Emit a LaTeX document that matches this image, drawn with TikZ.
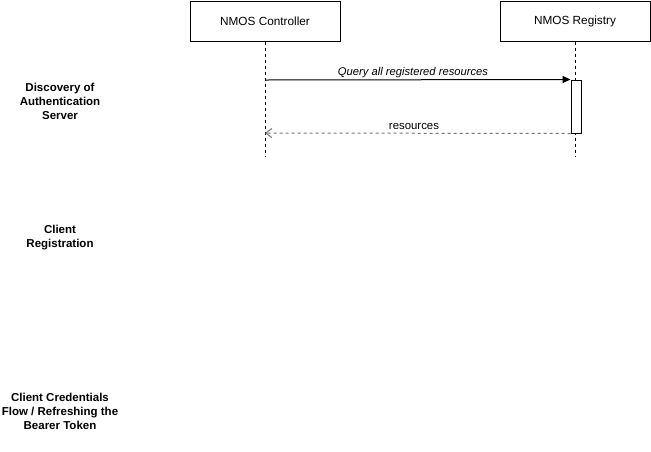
\documentclass[tikz,border=0pt]{standalone}
\usepackage{fontspec}
\setmainfont{Liberation Sans}
\usetikzlibrary{arrows.meta}
\begin{document}
\begin{tikzpicture}[x=1pt,y=-1pt,line width=1pt,
  actor/.style={draw=black,fill=white,minimum width=150pt,minimum height=40pt,inner sep=0pt,font=\fontsize{11.8}{13}\selectfont},
  life/.style={draw=black,dash pattern=on 3pt off 3pt},
  phase/.style={align=center,font=\fontsize{11.5}{14}\selectfont\bfseries,inner sep=0pt},
  msg/.style={draw=black,-{Triangle[length=8pt,width=7pt]}},
  ret/.style={draw=black!55,dash pattern=on 3pt off 3pt,-{Straight Barb[length=6pt,width=9pt]}},
  lbl/.style={font=\fontsize{11.4}{13}\selectfont,inner sep=0pt}]
\useasboundingbox (0,0) rectangle (651,451);
\node[actor] (ctrl) at (265,21) {NMOS Controller};
\node[actor] (reg) at (575,21) {NMOS Registry};
\coordinate (ctrlend) at (265,157);
\coordinate (regend) at (575,157);
\draw[life] (ctrl.south) -- (ctrlend);
\draw[life] (reg.south) -- (regend);
\node[draw=black,fill=white,minimum width=10pt,minimum height=53pt,inner sep=0pt] (act) at (576,106.5) {};
\coordinate (q0) at (265,80);
\coordinate (r0) at (265,133);
\draw[msg] (q0) -- (act.north west);
\node[lbl,font=\fontsize{11.2}{13}\selectfont\itshape] (qlbl) at (413,73) {Query all registered resources};
\draw[ret] (act.south west) -- (r0);
\node[lbl] (rlbl) at (414,126) {resources};
\node[phase] (p1) at (60,101) {Discovery of\\Authentication\\Server};
\node[phase] (p2) at (60,237.5) {Client\\Registration};
\node[phase] (p3) at (60,411) {Client Credentials\\Flow / Refreshing the\\Bearer Token};
\end{tikzpicture}
\end{document}
